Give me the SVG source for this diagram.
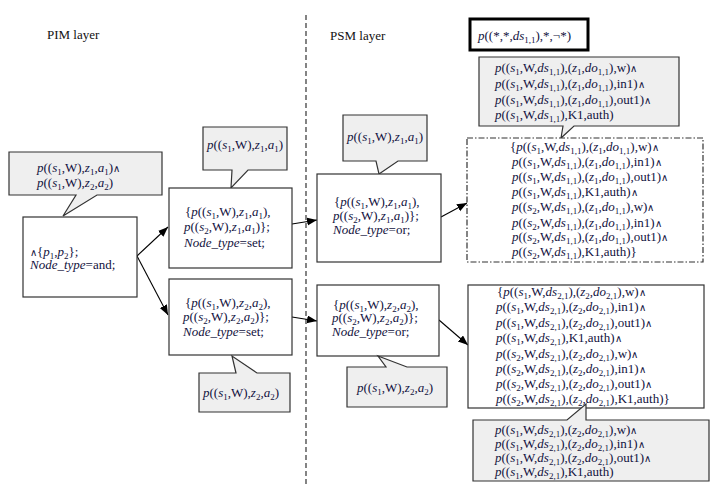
<svg xmlns="http://www.w3.org/2000/svg" width="721" height="491" viewBox="0 0 721 491">
<style>
text{font-family:"Liberation Serif","Times New Roman",serif;font-size:13px;fill:#121240}
.i{font-style:italic}
.b{font-size:9px;baseline-shift:-3px}
.w{font-family:"DejaVu Sans",sans-serif;font-size:10px;font-weight:200}
.box{fill:#fff;stroke:#333;stroke-width:1.2}
.call{fill:#efefef;stroke:#333;stroke-width:1.2}
.lbl{fill:#111;font-size:13px}
</style>
<defs>
<marker id="ah" markerWidth="11" markerHeight="9" refX="10" refY="4" orient="auto" markerUnits="userSpaceOnUse">
<path d="M0,0 L10,4 L0,8 z" fill="#000"/>
</marker>
</defs>

<text class="lbl" x="47" y="39">PIM layer</text>
<text class="lbl" x="330" y="40">PSM layer</text>
<line x1="306" y1="15" x2="306" y2="486" stroke="#333" stroke-width="1.2" stroke-dasharray="5,3"/>

<g id="connectors" stroke="#000" stroke-width="1.1" fill="none">
<line x1="137" y1="256" x2="168" y2="227" marker-end="url(#ah)"/>
<line x1="137" y1="256" x2="168" y2="315" marker-end="url(#ah)"/>
<line x1="292" y1="224" x2="317" y2="220" marker-end="url(#ah)"/>
<line x1="292" y1="317" x2="317" y2="321" marker-end="url(#ah)"/>
<line x1="441" y1="217" x2="467" y2="203" marker-end="url(#ah)"/>
<line x1="439" y1="320" x2="468" y2="345" marker-end="url(#ah)"/>
</g>

<g id="pim-and">
<path class="call" d="M9,152 H162 V195 H97 L63,216 L76,195 H9 Z"/>
<text x="37" y="172"><tspan class="i">p</tspan>((<tspan class="i">s</tspan><tspan class="b">1</tspan>,W),<tspan class="i">z</tspan><tspan class="b">1</tspan>,<tspan class="i">a</tspan><tspan class="b">1</tspan>)<tspan class="w">∧</tspan></text>
<text x="37" y="187"><tspan class="i">p</tspan>((<tspan class="i">s</tspan><tspan class="b">1</tspan>,W),<tspan class="i">z</tspan><tspan class="b">2</tspan>,<tspan class="i">a</tspan><tspan class="b">2</tspan>)</text>
<rect class="box" x="23" y="217" width="114" height="80"/>
<text x="30" y="256"><tspan class="w">∧</tspan>{<tspan class="i">p</tspan><tspan class="b">1</tspan>,<tspan class="i">p</tspan><tspan class="b">2</tspan>};</text>
<text x="30" y="269"><tspan class="i">Node_type</tspan>=and;</text>
</g>

<g id="pim-set1">
<path class="call" d="M203,127 H287 V170 H248 L231,188 L232,170 H203 Z"/>
<text x="207" y="149"><tspan class="i">p</tspan>((<tspan class="i">s</tspan><tspan class="b">1</tspan>,W),<tspan class="i">z</tspan><tspan class="b">1</tspan>,<tspan class="i">a</tspan><tspan class="b">1</tspan>)</text>
<rect class="box" x="169" y="188" width="123" height="80"/>
<text x="185" y="216">{<tspan class="i">p</tspan>((<tspan class="i">s</tspan><tspan class="b">1</tspan>,W),<tspan class="i">z</tspan><tspan class="b">1</tspan>,<tspan class="i">a</tspan><tspan class="b">1</tspan>),</text>
<text x="184" y="231"><tspan class="i">p</tspan>((<tspan class="i">s</tspan><tspan class="b">2</tspan>,W),<tspan class="i">z</tspan><tspan class="b">1</tspan>,<tspan class="i">a</tspan><tspan class="b">1</tspan>)};</text>
<text x="184" y="247"><tspan class="i">Node_type</tspan>=set;</text>
</g>

<g id="pim-set2">
<rect class="box" x="169" y="279" width="123" height="76"/>
<text x="185" y="307">{<tspan class="i">p</tspan>((<tspan class="i">s</tspan><tspan class="b">1</tspan>,W),<tspan class="i">z</tspan><tspan class="b">2</tspan>,<tspan class="i">a</tspan><tspan class="b">2</tspan>),</text>
<text x="183" y="321"><tspan class="i">p</tspan>((<tspan class="i">s</tspan><tspan class="b">2</tspan>,W),<tspan class="i">z</tspan><tspan class="b">2</tspan>,<tspan class="i">a</tspan><tspan class="b">2</tspan>)};</text>
<text x="183" y="336"><tspan class="i">Node_type</tspan>=set;</text>
<path class="call" d="M199,373 H236 L232,356 L257,373 H290 V412 H199 Z"/>
<text x="203" y="397"><tspan class="i">p</tspan>((<tspan class="i">s</tspan><tspan class="b">1</tspan>,W),<tspan class="i">z</tspan><tspan class="b">2</tspan>,<tspan class="i">a</tspan><tspan class="b">2</tspan>)</text>
</g>

<g id="psm-or1">
<path class="call" d="M343,115 H427 V161 H398 L379,174 L376,161 H343 Z"/>
<text x="347" y="141"><tspan class="i">p</tspan>((<tspan class="i">s</tspan><tspan class="b">1</tspan>,W),<tspan class="i">z</tspan><tspan class="b">1</tspan>,<tspan class="i">a</tspan><tspan class="b">1</tspan>)</text>
<rect class="box" x="317" y="174" width="124" height="88"/>
<text x="334" y="206">{<tspan class="i">p</tspan>((<tspan class="i">s</tspan><tspan class="b">1</tspan>,W),<tspan class="i">z</tspan><tspan class="b">1</tspan>,<tspan class="i">a</tspan><tspan class="b">1</tspan>),</text>
<text x="333" y="220"><tspan class="i">p</tspan>((<tspan class="i">s</tspan><tspan class="b">2</tspan>,W),<tspan class="i">z</tspan><tspan class="b">1</tspan>,<tspan class="i">a</tspan><tspan class="b">1</tspan>)};</text>
<text x="333" y="234"><tspan class="i">Node_type</tspan>=or;</text>
</g>

<g id="psm-or2">
<rect class="box" x="317" y="285" width="122" height="71"/>
<text x="333" y="309">{<tspan class="i">p</tspan>((<tspan class="i">s</tspan><tspan class="b">1</tspan>,W),<tspan class="i">z</tspan><tspan class="b">2</tspan>,<tspan class="i">a</tspan><tspan class="b">2</tspan>),</text>
<text x="332" y="322"><tspan class="i">p</tspan>((<tspan class="i">s</tspan><tspan class="b">2</tspan>,W),<tspan class="i">z</tspan><tspan class="b">2</tspan>,<tspan class="i">a</tspan><tspan class="b">2</tspan>)};</text>
<text x="332" y="336"><tspan class="i">Node_type</tspan>=or;</text>
<path class="call" d="M347,367 H386 L378,356 L407,367 H447 V407 H347 Z"/>
<text x="357" y="392"><tspan class="i">p</tspan>((<tspan class="i">s</tspan><tspan class="b">1</tspan>,W),<tspan class="i">z</tspan><tspan class="b">2</tspan>,<tspan class="i">a</tspan><tspan class="b">2</tspan>)</text>
</g>

<g id="pattern">
<rect x="470" y="19" width="118" height="31" fill="#fff" stroke="#000" stroke-width="3"/>
<text x="478" y="40"><tspan class="i">p</tspan>((*,*,<tspan class="i">ds</tspan><tspan class="b">1,1</tspan>),*,¬*)</text>
</g>

<g id="ds11">
<path class="call" d="M479,57 H679 V126 H574 L561,138 L563,126 H479 Z"/>
<text x="495" y="72"><tspan class="i">p</tspan>((<tspan class="i">s</tspan><tspan class="b">1</tspan>,W,<tspan class="i">ds</tspan><tspan class="b">1,1</tspan>),(<tspan class="i">z</tspan><tspan class="b">1</tspan>,<tspan class="i">do</tspan><tspan class="b">1,1</tspan>),w)<tspan class="w">∧</tspan></text>
<text x="495" y="88"><tspan class="i">p</tspan>((<tspan class="i">s</tspan><tspan class="b">1</tspan>,W,<tspan class="i">ds</tspan><tspan class="b">1,1</tspan>),(<tspan class="i">z</tspan><tspan class="b">1</tspan>,<tspan class="i">do</tspan><tspan class="b">1,1</tspan>),in1)<tspan class="w">∧</tspan></text>
<text x="495" y="104"><tspan class="i">p</tspan>((<tspan class="i">s</tspan><tspan class="b">1</tspan>,W,<tspan class="i">ds</tspan><tspan class="b">1,1</tspan>),(<tspan class="i">z</tspan><tspan class="b">1</tspan>,<tspan class="i">do</tspan><tspan class="b">1,1</tspan>),out1)<tspan class="w">∧</tspan></text>
<text x="495" y="119"><tspan class="i">p</tspan>((<tspan class="i">s</tspan><tspan class="b">1</tspan>,W,<tspan class="i">ds</tspan><tspan class="b">1,1</tspan>),K1,auth)</text>
<rect x="467" y="138" width="236" height="124" fill="#fff" stroke="#333" stroke-width="1.2" stroke-dasharray="6,2,1.5,2"/>
<text x="510" y="151">{<tspan class="i">p</tspan>((<tspan class="i">s</tspan><tspan class="b">1</tspan>,W,<tspan class="i">ds</tspan><tspan class="b">1,1</tspan>),(<tspan class="i">z</tspan><tspan class="b">1</tspan>,<tspan class="i">do</tspan><tspan class="b">1,1</tspan>),w)<tspan class="w">∧</tspan></text>
<text x="512" y="166"><tspan class="i">p</tspan>((<tspan class="i">s</tspan><tspan class="b">1</tspan>,W,<tspan class="i">ds</tspan><tspan class="b">1,1</tspan>),(<tspan class="i">z</tspan><tspan class="b">1</tspan>,<tspan class="i">do</tspan><tspan class="b">1,1</tspan>),in1)<tspan class="w">∧</tspan></text>
<text x="512" y="181"><tspan class="i">p</tspan>((<tspan class="i">s</tspan><tspan class="b">1</tspan>,W,<tspan class="i">ds</tspan><tspan class="b">1,1</tspan>),(<tspan class="i">z</tspan><tspan class="b">1</tspan>,<tspan class="i">do</tspan><tspan class="b">1,1</tspan>),out1)<tspan class="w">∧</tspan></text>
<text x="512" y="196"><tspan class="i">p</tspan>((<tspan class="i">s</tspan><tspan class="b">1</tspan>,W,<tspan class="i">ds</tspan><tspan class="b">1,1</tspan>),K1,auth)<tspan class="w">∧</tspan></text>
<text x="512" y="211"><tspan class="i">p</tspan>((<tspan class="i">s</tspan><tspan class="b">2</tspan>,W,<tspan class="i">ds</tspan><tspan class="b">1,1</tspan>),(<tspan class="i">z</tspan><tspan class="b">1</tspan>,<tspan class="i">do</tspan><tspan class="b">1,1</tspan>),w)<tspan class="w">∧</tspan></text>
<text x="512" y="227"><tspan class="i">p</tspan>((<tspan class="i">s</tspan><tspan class="b">2</tspan>,W,<tspan class="i">ds</tspan><tspan class="b">1,1</tspan>),(<tspan class="i">z</tspan><tspan class="b">1</tspan>,<tspan class="i">do</tspan><tspan class="b">1,1</tspan>),in1)<tspan class="w">∧</tspan></text>
<text x="512" y="241"><tspan class="i">p</tspan>((<tspan class="i">s</tspan><tspan class="b">2</tspan>,W,<tspan class="i">ds</tspan><tspan class="b">1,1</tspan>),(<tspan class="i">z</tspan><tspan class="b">1</tspan>,<tspan class="i">do</tspan><tspan class="b">1,1</tspan>),out1)<tspan class="w">∧</tspan></text>
<text x="512" y="256"><tspan class="i">p</tspan>((<tspan class="i">s</tspan><tspan class="b">2</tspan>,W,<tspan class="i">ds</tspan><tspan class="b">1,1</tspan>),K1,auth)}</text>
</g>

<g id="ds21">
<rect class="box" x="468" y="285" width="236" height="123"/>
<text x="497" y="296">{<tspan class="i">p</tspan>((<tspan class="i">s</tspan><tspan class="b">1</tspan>,W,<tspan class="i">ds</tspan><tspan class="b">2,1</tspan>),(<tspan class="i">z</tspan><tspan class="b">2</tspan>,<tspan class="i">do</tspan><tspan class="b">2,1</tspan>),w)<tspan class="w">∧</tspan></text>
<text x="496" y="311"><tspan class="i">p</tspan>((<tspan class="i">s</tspan><tspan class="b">1</tspan>,W,<tspan class="i">ds</tspan><tspan class="b">2,1</tspan>),(<tspan class="i">z</tspan><tspan class="b">2</tspan>,<tspan class="i">do</tspan><tspan class="b">2,1</tspan>),in1)<tspan class="w">∧</tspan></text>
<text x="496" y="327"><tspan class="i">p</tspan>((<tspan class="i">s</tspan><tspan class="b">1</tspan>,W,<tspan class="i">ds</tspan><tspan class="b">2,1</tspan>),(<tspan class="i">z</tspan><tspan class="b">2</tspan>,<tspan class="i">do</tspan><tspan class="b">2,1</tspan>),out1)<tspan class="w">∧</tspan></text>
<text x="496" y="342"><tspan class="i">p</tspan>((<tspan class="i">s</tspan><tspan class="b">1</tspan>,W,<tspan class="i">ds</tspan><tspan class="b">2,1</tspan>),K1,auth)<tspan class="w">∧</tspan></text>
<text x="496" y="358"><tspan class="i">p</tspan>((<tspan class="i">s</tspan><tspan class="b">2</tspan>,W,<tspan class="i">ds</tspan><tspan class="b">2,1</tspan>),(<tspan class="i">z</tspan><tspan class="b">2</tspan>,<tspan class="i">do</tspan><tspan class="b">2,1</tspan>),w)<tspan class="w">∧</tspan></text>
<text x="496" y="373"><tspan class="i">p</tspan>((<tspan class="i">s</tspan><tspan class="b">2</tspan>,W,<tspan class="i">ds</tspan><tspan class="b">2,1</tspan>),(<tspan class="i">z</tspan><tspan class="b">2</tspan>,<tspan class="i">do</tspan><tspan class="b">2,1</tspan>),in1)<tspan class="w">∧</tspan></text>
<text x="496" y="388"><tspan class="i">p</tspan>((<tspan class="i">s</tspan><tspan class="b">2</tspan>,W,<tspan class="i">ds</tspan><tspan class="b">2,1</tspan>),(<tspan class="i">z</tspan><tspan class="b">2</tspan>,<tspan class="i">do</tspan><tspan class="b">2,1</tspan>),out1)<tspan class="w">∧</tspan></text>
<text x="496" y="403"><tspan class="i">p</tspan>((<tspan class="i">s</tspan><tspan class="b">2</tspan>,W,<tspan class="i">ds</tspan><tspan class="b">2,1</tspan>),(<tspan class="i">z</tspan><tspan class="b">2</tspan>,<tspan class="i">do</tspan><tspan class="b">2,1</tspan>),K1,auth)}</text>
<path class="call" d="M473,420 H567 L586,404 V420 H709 V481 H473 Z"/>
<text x="495" y="434"><tspan class="i">p</tspan>((<tspan class="i">s</tspan><tspan class="b">1</tspan>,W,<tspan class="i">ds</tspan><tspan class="b">2,1</tspan>),(<tspan class="i">z</tspan><tspan class="b">2</tspan>,<tspan class="i">do</tspan><tspan class="b">2,1</tspan>),w)<tspan class="w">∧</tspan></text>
<text x="495" y="448"><tspan class="i">p</tspan>((<tspan class="i">s</tspan><tspan class="b">1</tspan>,W,<tspan class="i">ds</tspan><tspan class="b">2,1</tspan>),(<tspan class="i">z</tspan><tspan class="b">2</tspan>,<tspan class="i">do</tspan><tspan class="b">2,1</tspan>),in1)<tspan class="w">∧</tspan></text>
<text x="495" y="462"><tspan class="i">p</tspan>((<tspan class="i">s</tspan><tspan class="b">1</tspan>,W,<tspan class="i">ds</tspan><tspan class="b">2,1</tspan>),(<tspan class="i">z</tspan><tspan class="b">2</tspan>,<tspan class="i">do</tspan><tspan class="b">2,1</tspan>),out1)<tspan class="w">∧</tspan></text>
<text x="495" y="476"><tspan class="i">p</tspan>((<tspan class="i">s</tspan><tspan class="b">1</tspan>,W,<tspan class="i">ds</tspan><tspan class="b">2,1</tspan>),K1,auth)</text>
</g>
</svg>
